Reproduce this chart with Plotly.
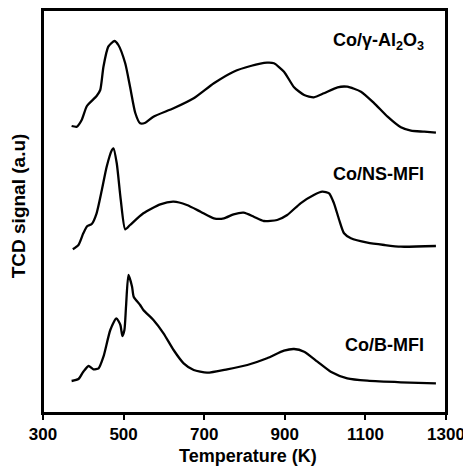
import plotly.graph_objects as go

# Co/γ-Al2O3 (top)
t_al = [371, 384, 396, 409, 433, 442, 450, 462, 477, 487, 504, 516, 529, 541, 554, 574, 624, 674, 724, 773, 815, 856, 873, 898, 923, 948, 972, 997, 1031, 1055, 1089, 1122, 1155, 1188, 1213, 1246, 1275]
s_al = [286, 285.3, 292, 306, 316, 322, 345.3, 365.3, 371, 367, 348.7, 325.3, 299, 288.7, 289.3, 295.3, 303.7, 313.7, 328.7, 340.3, 346, 349.3, 348.7, 340.3, 324.7, 317, 314.7, 318.7, 324.7, 325.3, 320.3, 308.7, 295.3, 284.7, 281.3, 280.3, 279.3]

# Co/NS-MFI (middle)
t_ns = [374, 388, 400, 410, 421, 433, 446, 458, 471, 475, 483, 493, 504, 516, 549, 591, 624, 657, 691, 724, 749, 773, 798, 823, 848, 881, 906, 939, 972, 993, 1010, 1022, 1035, 1047, 1064, 1105, 1147, 1188, 1275]
s_ns = [162.7, 167, 178.7, 186, 188, 198.7, 222, 245.3, 262, 263.7, 248.7, 212, 182.7, 187, 198.7, 207.7, 210.3, 207, 200.3, 193.7, 193.7, 197.7, 199.3, 195.3, 191, 192, 197, 208.7, 217, 220.3, 218.7, 208.7, 192, 178.7, 173.7, 169.3, 167, 165.3, 166]

# Co/B-MFI (bottom)
t_b = [371, 388, 400, 413, 425, 438, 450, 467, 482, 492, 497, 502, 506, 512, 521, 525, 541, 549, 574, 599, 624, 649, 674, 707, 757, 807, 856, 898, 923, 948, 981, 1014, 1055, 1105, 1188, 1275]
s_b = [31, 33, 40.3, 46, 42.7, 43.7, 55.3, 82, 93.7, 87, 76, 82, 105.3, 137, 125.3, 115.3, 107, 102, 92, 78.7, 62, 48.7, 42, 39.3, 42.7, 47, 53.7, 61.3, 63, 60.3, 50.3, 40.3, 33.7, 31.3, 29.7, 28.7]

series_names = ["Co/γ-Al<sub>2</sub>O<sub>3</sub>", "Co/NS-MFI", "Co/B-MFI"]
x_ticks = [300, 500, 700, 900, 1100, 1300]
x_title = "Temperature (K)"
y_title = "TCD signal (a.u)"

FONT = "Liberation Sans, Arial, sans-serif"

fig = go.Figure()
for t, s in [(t_al, s_al), (t_ns, s_ns), (t_b, s_b)]:
    fig.add_trace(go.Scatter(x=t, y=s, mode="lines",
                             line=dict(color="black", width=2.3, shape="spline", smoothing=0.6),
                             showlegend=False, hoverinfo="skip"))

label_pos = [(1250, 371), (1250, 238), (1250, 67)]
for name, (lx, ly) in zip(series_names, label_pos):
    fig.add_annotation(x=lx, y=ly, text="<b>" + name + "</b>", showarrow=False,
                       xanchor="right", yanchor="middle",
                       font=dict(family=FONT, size=18, color="black"))

fig.add_annotation(xref="paper", yref="paper", x=0.509, y=-0.107, text="<b>" + x_title + "</b>",
                   showarrow=False, xanchor="center", yanchor="middle",
                   font=dict(family=FONT, size=18, color="black"))
fig.add_annotation(xref="paper", yref="paper", x=-0.061, y=0.514, text="<b>" + y_title + "</b>",
                   showarrow=False, xanchor="center", yanchor="middle", textangle=-90,
                   font=dict(family=FONT, size=19, color="black"))

# plot frame
fig.add_shape(type="rect", xref="paper", yref="paper", x0=0, y0=0, x1=1, y1=1,
              line=dict(color="black", width=2), fillcolor="rgba(0,0,0,0)", layer="above")

fig.update_layout(
    width=463, height=466,
    margin=dict(l=43, r=17, t=10, b=53),
    paper_bgcolor="white", plot_bgcolor="white",
    font=dict(family=FONT, color="black"),
)
fig.update_xaxes(range=[300, 1300], tickvals=x_ticks, ticktext=["<b>%d</b>" % v for v in x_ticks],
                 ticks="outside", ticklen=5, tickwidth=2, tickcolor="black", automargin=False,
                 ticklabeloverflow="allow",
                 showline=True, linecolor="black", linewidth=2, mirror=True, showgrid=False, zeroline=False,
                 tickfont=dict(family=FONT, size=17, color="black"))
fig.update_yaxes(range=[-1, 402], showticklabels=False, ticks="", automargin=False,
                 showline=True, linecolor="black", linewidth=2, mirror=True, showgrid=False, zeroline=False)

fig.write_html("out.html", config={"displayModeBar": False},
               post_script="document.body.style.margin='0px';document.body.style.overflow='hidden';")
